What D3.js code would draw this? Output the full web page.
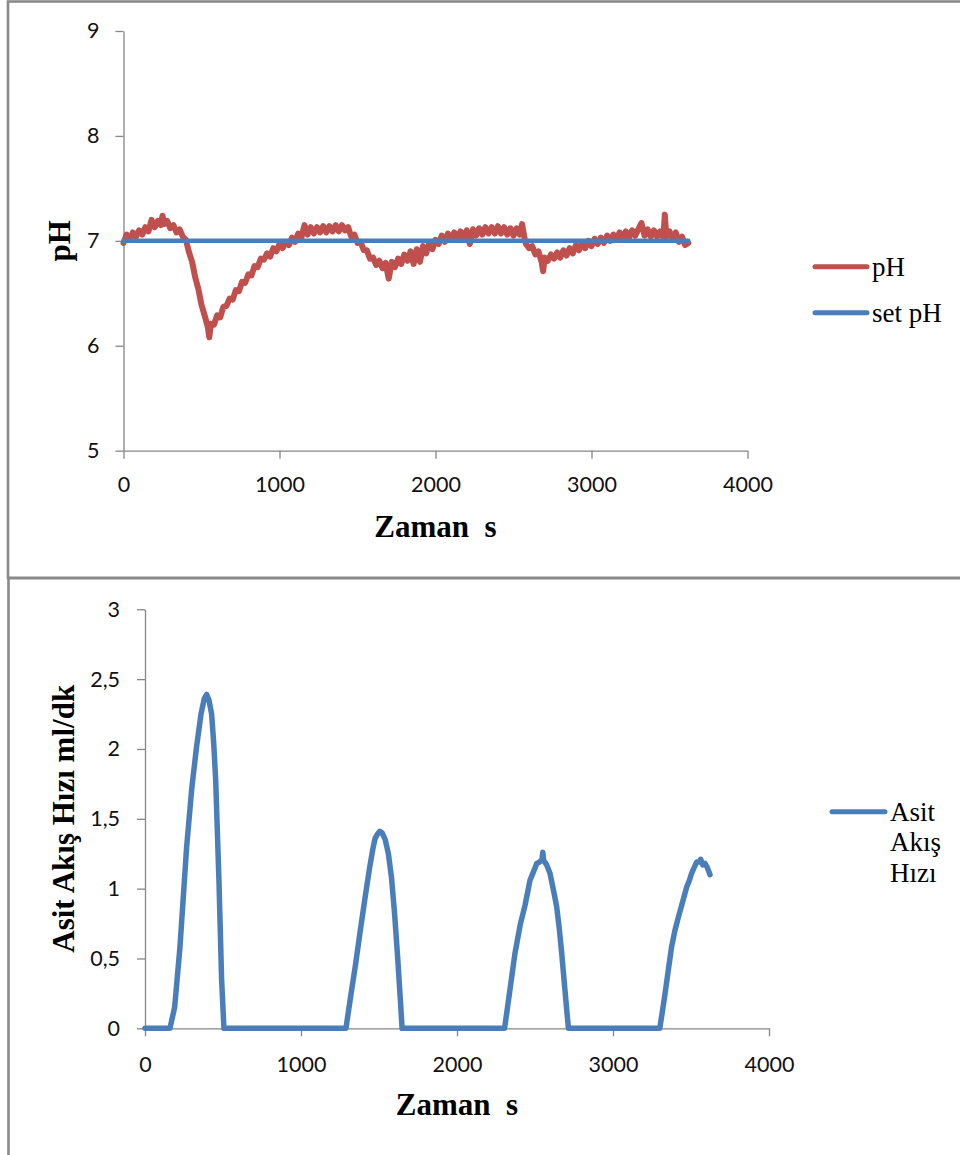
<!DOCTYPE html>
<html>
<head>
<meta charset="utf-8">
<script src="https://cdn.jsdelivr.net/npm/d3@7"></script>
<style>
  html, body { margin: 0; padding: 0; background: #fff; }
  svg { display: block; }
  .tick text { font-family: Lato, "Open Sans", sans-serif; font-size: 21.5px; fill: #111; }
  .axis path, .axis line { stroke: #868686; stroke-width: 1.3; }
  .title { font-family: "Liberation Serif", "Times New Roman", serif; font-weight: bold; font-size: 31px; fill: #000; white-space: pre; }
  .legend { font-family: "Liberation Serif", "Times New Roman", serif; font-size: 27px; fill: #000; }
</style>
</head>
<body>
<script>
// pH measurement over time: [time s, pH]
const phSeries = [
  [0,6.98],[20,7.06],[40,7.01],[60,7.08],[80,7.04],[100,7.10],[120,7.06],[140,7.13],[160,7.09],[180,7.20],
  [200,7.13],[220,7.19],[240,7.15],[250,7.24],[260,7.16],[280,7.19],[300,7.12],[320,7.15],[340,7.08],[360,7.11],
  [380,7.04],[400,7.01],[420,6.89],[440,6.80],[460,6.65],[480,6.54],[500,6.39],[520,6.29],[540,6.18],[550,6.08],
  [560,6.21],[580,6.20],[600,6.29],[620,6.27],[640,6.37],[660,6.38],[680,6.45],[700,6.44],[720,6.53],[740,6.52],
  [760,6.61],[780,6.60],[800,6.68],[820,6.67],[840,6.76],[860,6.75],[880,6.83],[900,6.82],[920,6.88],[940,6.85],
  [960,6.93],[980,6.90],[1000,6.97],[1020,6.93],[1040,6.99],[1060,6.96],[1080,7.03],[1100,6.99],[1120,7.07],[1140,7.03],
  [1160,7.15],[1180,7.06],[1200,7.13],[1220,7.07],[1240,7.13],[1260,7.08],[1280,7.14],[1300,7.08],[1320,7.14],[1340,7.09],
  [1360,7.15],[1380,7.09],[1400,7.15],[1420,7.10],[1440,7.13],[1460,7.04],[1480,7.06],[1500,6.98],[1520,6.99],[1540,6.91],
  [1560,6.91],[1580,6.83],[1600,6.84],[1620,6.77],[1640,6.81],[1660,6.74],[1680,6.79],[1700,6.64],[1720,6.80],[1740,6.75],
  [1760,6.83],[1780,6.78],[1800,6.87],[1820,6.81],[1840,6.90],[1860,6.78],[1880,6.92],[1900,6.80],[1920,6.95],[1940,6.88],
  [1960,6.98],[1980,6.92],[2000,7.01],[2020,6.97],[2040,7.05],[2060,6.99],[2080,7.07],[2100,7.01],[2120,7.08],[2140,7.02],
  [2160,7.09],[2180,7.03],[2200,7.10],[2220,6.97],[2240,7.11],[2260,7.05],[2280,7.12],[2300,7.06],[2320,7.13],[2340,7.07],
  [2360,7.13],[2380,7.07],[2400,7.14],[2420,7.07],[2440,7.13],[2460,7.06],[2480,7.12],[2500,7.05],[2520,7.12],[2540,7.06],
  [2555,7.16],[2570,7.03],[2580,6.97],[2600,6.93],[2620,6.95],[2640,6.87],[2660,6.90],[2680,6.80],[2690,6.71],[2700,6.84],
  [2720,6.81],[2740,6.87],[2760,6.83],[2780,6.89],[2800,6.84],[2820,6.91],[2840,6.86],[2860,6.93],[2880,6.88],[2900,6.96],
  [2920,6.91],[2940,6.98],[2960,6.93],[2980,7.00],[3000,6.95],[3020,7.02],[3040,6.97],[3060,7.03],[3080,6.98],[3100,7.05],
  [3120,7.00],[3140,7.06],[3160,7.01],[3180,7.08],[3200,7.02],[3220,7.09],[3240,7.03],[3260,7.10],[3280,7.05],[3300,7.11],
  [3320,7.17],[3340,7.05],[3360,7.11],[3380,7.04],[3400,7.10],[3420,7.04],[3440,7.09],[3460,7.03],[3470,7.25],[3480,7.04],
  [3500,7.09],[3520,7.02],[3540,7.08],[3560,6.99],[3580,7.04],[3600,6.96],[3620,6.98]
];

// Set point: [time s, pH]
const setPhSeries = [[0,7],[1000,7],[2000,7],[3000,7],[3620,7]];

// Acid flow rate: [time s, ml/dk]
const acidFlowSeries = [
  [0,0],[160,0],[190,0.15],[224,0.58],[267,1.30],[300,1.72],[331,2.02],[359,2.25],[380,2.36],[395,2.39],
  [410,2.35],[427,2.25],[440,2.05],[453,1.78],[474,1.06],[491,0.35],[506,0],
  [1288,0],[1320,0.24],[1350,0.46],[1380,0.70],[1410,0.93],[1440,1.15],[1460,1.28],[1475,1.36],[1490,1.39],
  [1505,1.41],[1520,1.40],[1540,1.35],[1560,1.25],[1580,1.08],[1600,0.82],[1620,0.50],[1640,0.15],[1648,0],
  [2305,0],[2340,0.28],[2372,0.54],[2405,0.74],[2436,0.88],[2468,1.06],[2490,1.12],[2511,1.18],[2530,1.19],
  [2545,1.21],[2550,1.26],[2556,1.20],[2575,1.17],[2596,1.11],[2620,0.98],[2639,0.87],[2655,0.72],[2671,0.54],
  [2690,0.30],[2714,0],
  [3300,0],[3330,0.22],[3355,0.42],[3375,0.58],[3397,0.70],[3420,0.80],[3440,0.88],[3472,1.01],[3490,1.06],
  [3504,1.11],[3520,1.15],[3536,1.19],[3550,1.19],[3562,1.21],[3575,1.17],[3590,1.18],[3605,1.15],[3622,1.10]
];

const timeTicks = [0, 1000, 2000, 3000, 4000];
const phTicks = [5, 6, 7, 8, 9];
const flowTicks = [0, 0.5, 1, 1.5, 2, 2.5, 3];

const xTitle = "Zaman  s";
const phTitle = "pH";
const flowTitle = "Asit Akış Hızı ml/dk";
const phLegend = ["pH", "set pH"];
const flowLegend = ["Asit", "Akış", "Hızı"];

const RED = "#C0504D";
const BLUE = "#4A7EBB";

const svg = d3.select("body").append("svg")
  .attr("width", 960).attr("height", 1155);

svg.append("rect").attr("width", 960).attr("height", 1155).attr("fill", "#fff");

// panel frames
svg.append("rect").attr("x", 8).attr("y", 1.5).attr("width", 970).attr("height", 576.5)
  .attr("fill", "none").attr("stroke", "#8a8a8a").attr("stroke-width", 2.6);
svg.append("rect").attr("x", 8.5).attr("y", 578).attr("width", 970).attr("height", 600)
  .attr("fill", "none").attr("stroke", "#8a8a8a").attr("stroke-width", 2.6);

const commaFmt = d => String(d).replace(".", ",");

function drawChart(cfg) {
  const x = d3.scaleLinear().domain([0, 4000]).range(cfg.xRange);
  const y = d3.scaleLinear().domain(cfg.yDomain).range(cfg.yRange);

  const gx = svg.append("g").attr("class", "axis")
    .attr("transform", `translate(0,${cfg.yRange[0]})`)
    .call(d3.axisBottom(x).tickValues(timeTicks).tickSize(8).tickSizeOuter(0).tickPadding(cfg.xPad).tickFormat(d3.format("d")));
  const gy = svg.append("g").attr("class", "axis")
    .attr("transform", `translate(${cfg.xRange[0]},0)`)
    .call(d3.axisLeft(y).tickValues(cfg.yTicks).tickSize(8).tickSizeOuter(0).tickPadding(cfg.yPad).tickFormat(commaFmt));
  [gx, gy].forEach(g => g.attr("font-family", null).attr("font-size", null));

  const line = d3.line().x(d => x(d[0])).y(d => y(d[1]));
  cfg.series.forEach(s => {
    svg.append("path").datum(s.data).attr("d", line)
      .attr("fill", "none").attr("stroke", s.color).attr("stroke-width", s.width)
      .attr("stroke-linejoin", "round").attr("stroke-linecap", "round");
  });

  svg.append("text").attr("class", "title")
    .attr("x", (cfg.xRange[0] + cfg.xRange[1]) / 2).attr("y", cfg.xTitleY)
    .attr("text-anchor", "middle").text(xTitle);
  svg.append("text").attr("class", "title")
    .attr("transform", `translate(${cfg.yTitleX},${(cfg.yRange[0] + cfg.yRange[1]) / 2}) rotate(-90)`)
    .attr("text-anchor", "middle").text(cfg.yTitle);
}

drawChart({
  xRange: [123.5, 747.5], yDomain: [5, 9], yRange: [450.7, 31], yTicks: phTicks,
  xPad: 18, yPad: 16, xTitleY: 537, yTitleX: 70, yTitle: phTitle,
  series: [
    { data: phSeries, color: RED, width: 6 },
    { data: setPhSeries, color: BLUE, width: 4.5 }
  ]
});

drawChart({
  xRange: [145, 769], yDomain: [0, 3], yRange: [1028.3, 609.3], yTicks: flowTicks,
  xPad: 20, yPad: 17, xTitleY: 1115, yTitleX: 73.5, yTitle: flowTitle,
  series: [
    { data: acidFlowSeries, color: BLUE, width: 5.5 }
  ]
});

// legends
const legTop = svg.append("g");
[[phLegend[0], RED, 266.7], [phLegend[1], BLUE, 312.7]].forEach(([label, color, ly]) => {
  legTop.append("line").attr("x1", 815).attr("x2", 867).attr("y1", ly).attr("y2", ly)
    .attr("stroke", color).attr("stroke-width", 5).attr("stroke-linecap", "round");
  legTop.append("text").attr("class", "legend").attr("x", 872).attr("y", ly + 9).text(label);
});

const legBottom = svg.append("g");
legBottom.append("line").attr("x1", 832).attr("x2", 885).attr("y1", 811.7).attr("y2", 811.7)
  .attr("stroke", BLUE).attr("stroke-width", 5).attr("stroke-linecap", "round");
flowLegend.forEach((label, i) => {
  legBottom.append("text").attr("class", "legend").attr("x", 890).attr("y", 821 + i * 30.4).text(label);
});
</script>
</body>
</html>
